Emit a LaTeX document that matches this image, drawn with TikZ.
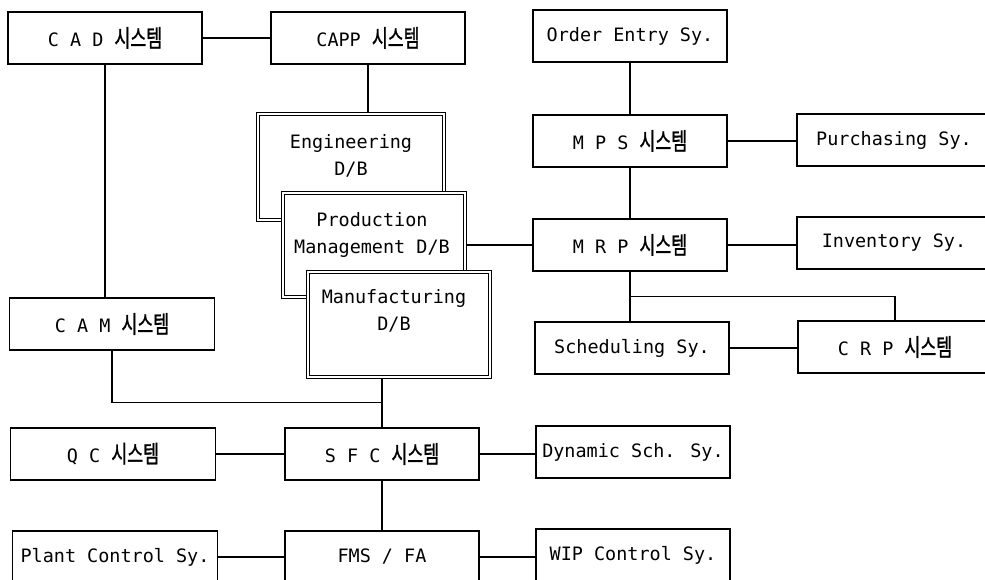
\documentclass[tikz,border=0pt]{standalone}
\usepackage{fontspec}
\setmainfont{DejaVu Sans Mono}
\newfontfamily\krfont[Scale=1.3,FakeStretch=0.72,FakeBold=1.2]{Noto Sans CJK KR}
\usepackage{tikz}
\usetikzlibrary{positioning,calc}
\newcommand{\sysword}{{\krfont 시스템}}

\begin{document}
\begin{tikzpicture}[x=0.2mm,y=-0.2mm,
        sysbox/.style={draw, line width=0.8pt, fill=white, inner sep=0pt,
          minimum width=38.8mm, minimum height=10.4mm,
          font=\fontsize{10.5}{12}\selectfont},
        widebox/.style={sysbox, minimum width=41mm},
        dbbox/.style={draw, line width=0.6pt, double, double distance=1.1pt,
          fill=white, inner sep=0pt, minimum width=36.4mm, minimum height=21mm},
        dbtext/.style={align=center, inner sep=0pt,
          font=\fontsize{10.5}{15}\selectfont},
        link/.style={line width=0.6pt}
      ]
        \useasboundingbox (0,0) rectangle (985,580);

        \node[sysbox] (cad) at (105,38) {C A D \sysword};
        \node[sysbox] (capp) at (368,38) {CAPP \sysword};
        \node[sysbox] (order) at (630,36) {Order Entry Sy.};
        \node[sysbox] (mps) at (630,141) {M P S \sysword};
        \node[sysbox] (purch) at (894,140) {Purchasing Sy.};
        \node[sysbox] (mrp) at (630,245) {M R P \sysword};
        \node[sysbox] (inv) at (894,243) {Inventory Sy.};
        \node[sysbox] (sched) at (632,348) {Scheduling Sy.};
        \node[sysbox] (crp) at (895,347) {C R P \sysword};
        \node[widebox] (cam) at (112,324) {C A M \sysword};
        \node[widebox] (qc) at (113,454) {Q C \sysword};
        \node[sysbox] (sfc) at (382,454) {S F C \sysword};
        \node[sysbox] (dyn) at (633,452) {Dynamic Sch. Sy.};
        \node[widebox] (plant) at (115,557) {Plant Control Sy.};
        \node[sysbox] (fms) at (382,557) {FMS / FA};
        \node[sysbox] (wip) at (633,555) {WIP Control Sy.};

        % D/B boxes, stacked
        \node[dbbox, minimum width=37.2mm, minimum height=21.2mm] (eng) at (351,167) {};
        \node[dbtext] (engtxt) at (351,156) {Engineering\\D/B};
        \node[dbbox, minimum height=20.8mm] (prod) at (374,245) {};
        \node[dbtext] (prodtxt) at (372,235) {Production\\Management D/B};
        \node[dbbox] (manu) at (399,324.5) {};
        \node[dbtext] (manutxt) at (394,311) {Manufacturing\\D/B};

        \coordinate (mrpsplit) at ($(mrp.south)!0.5!(mrp.south |- sched.north)$);
        \coordinate (sfcjoin) at ($(sfc.north)!0.5!(sfc.north |- manu.south)$);

        \draw[link] (cad) -- (capp);
        \draw[link] (cad) -- (cad |- cam.north);
        \draw[link] (capp) -- (capp |- eng.north);
        \draw[link] (order) -- (mps);
        \draw[link] (mps) -- (mps -| purch.west);
        \draw[link] (mps) -- (mrp);
        \draw[link] (prod) -- (mrp);
        \draw[link] (mrp) -- (mrp -| inv.west);
        \draw[link] (mrp.south) -- (mrp.south |- sched.north);
        \draw[link] (mrpsplit) -| (crp.north);
        \draw[link] (sched) -- (sched -| crp.west);
        \draw[link] (sfc.north) -- (sfc.north |- manu.south);
        \draw[link] (cam.south) |- (sfcjoin);
        \draw[link] (qc) -- (sfc);
        \draw[link] (sfc) -- (sfc -| dyn.west);
        \draw[link] (sfc) -- (fms);
        \draw[link] (plant) -- (fms);
        \draw[link] (fms) -- (fms -| wip.west);
      \end{tikzpicture}
\end{document}
